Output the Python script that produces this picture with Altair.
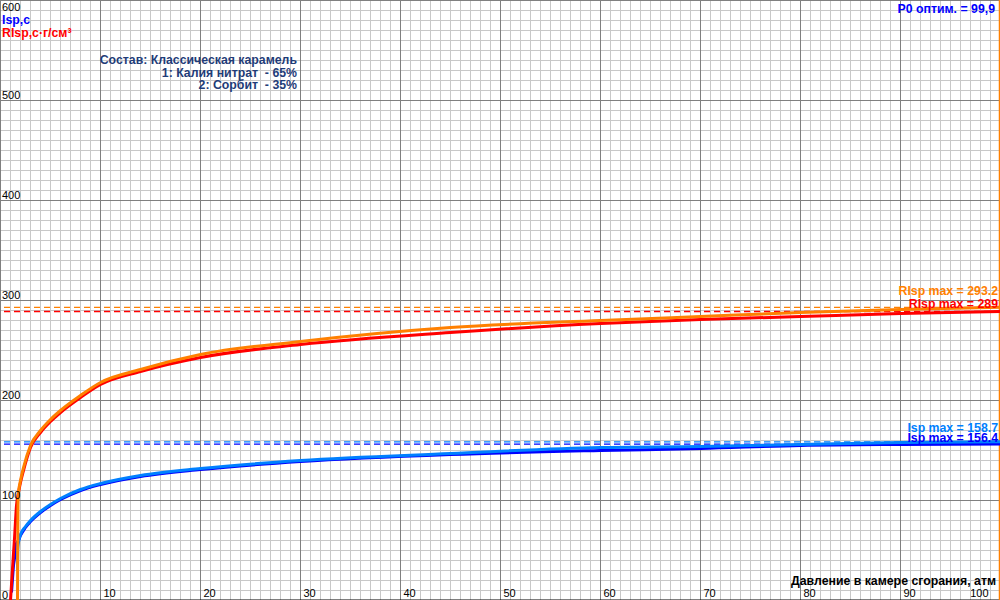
import altair as alt
import pandas as pd

FONT = "Liberation Sans"

# ---- grid / ticks ----
minor_x = list(range(0, 101, 1))
minor_y = list(range(0, 601, 10))
major_x = list(range(0, 101, 10))
major_y = list(range(0, 601, 100))

# ---- curves (pressure, atm -> value) ----
p_orange = [1.7, 1.72, 1.75, 1.8, 2, 2.3, 3, 4, 5, 6, 8, 10, 14, 20, 30, 45, 60, 70, 80, 90, 100]
v_orange = [0, 50, 95, 108, 120, 133, 155, 170, 181, 190, 205, 218, 231, 246, 259, 273, 280, 284, 288, 291, 293.2]

p_red = [1.0, 1.2, 1.4, 1.6, 1.8, 2, 2.3, 3, 4, 5, 6, 8, 10, 14, 20, 30, 45, 60, 70, 80, 90, 100]
v_red = [0, 32, 62, 95, 108, 118, 130, 153, 168, 179, 188, 203, 216, 229, 243, 256, 268, 277, 281, 284, 287, 289]

p_lblue = [1.7, 1.72, 1.8, 2, 2.5, 3, 4, 5, 6, 8, 10, 14, 20, 30, 45, 60, 70, 80, 90, 100]
v_lblue = [30, 50, 58, 66, 74, 80, 89, 96, 102, 111, 117, 125, 132, 140, 147, 153, 154, 156, 158, 158.7]

p_dblue = [1.1, 1.2, 1.3, 1.4, 1.5, 1.6, 1.8, 2, 2.5, 3, 4, 5, 6, 8, 10, 14, 20, 30, 45, 60, 70, 80, 90, 100]
v_dblue = [8, 22, 35, 42, 50, 57, 60, 65, 73, 79, 88, 95, 101, 110, 116, 124, 131, 139, 146, 150, 152, 155, 156, 156.4]

# ---- maxima ----
max_names = ["RIsp max = 293.2", "RIsp max = 289", "Isp max = 158.7", "Isp max = 156.4"]
max_vals = [293.2, 289, 158.7, 156.4]
max_colors = ["#FF8000", "#FF0000", "#0080FF", "#0000FF"]
max_dy = [-12, -4, -10, -2]

p0_opt = 99.9

xs = alt.Scale(domain=[0, 100], range=[0.5, 1000.5], nice=False, zero=False)
ys = alt.Scale(domain=[0, 600], range=[600.5, 0.5], nice=False, zero=False)

X = lambda f: alt.X(f, scale=xs, axis=None)
Y = lambda f: alt.Y(f, scale=ys, axis=None)

gx = alt.Chart(pd.DataFrame({"v": minor_x})).mark_rule(color="#C8C8C8", strokeWidth=1).encode(x=X("v:Q"))
gy = alt.Chart(pd.DataFrame({"v": minor_y})).mark_rule(color="#C8C8C8", strokeWidth=1).encode(y=Y("v:Q"))
mx = alt.Chart(pd.DataFrame({"v": major_x})).mark_rule(color="#808080", strokeWidth=1).encode(x=X("v:Q"))
my = alt.Chart(pd.DataFrame({"v": major_y})).mark_rule(color="#808080", strokeWidth=1).encode(y=Y("v:Q"))
bottom = alt.Chart(pd.DataFrame({"v": [major_y[0]]})).mark_rule(color="#000000", strokeWidth=2).encode(y=Y("v:Q"))

# tick labels
xl_df = pd.DataFrame({"v": major_x[1:]})
xlab = alt.Chart(xl_df).transform_filter("datum.v < 100").mark_text(
    align="left", baseline="alphabetic", dx=3, font=FONT, fontSize=11, color="#000000").encode(
    x=X("v:Q"), y=alt.value(597), text=alt.Text("v:Q"))
xlab100 = alt.Chart(xl_df).transform_filter("datum.v == 100").mark_text(
    align="right", baseline="alphabetic", dx=-12, font=FONT, fontSize=11, color="#000000").encode(
    x=X("v:Q"), y=alt.value(597), text=alt.Text("v:Q"))

yl_df = pd.DataFrame({"v": major_y})
ylab = alt.Chart(yl_df).transform_filter("datum.v < 600").mark_text(
    align="left", baseline="alphabetic", dy=-2, font=FONT, fontSize=11, color="#000000").encode(
    x=alt.value(2), y=Y("v:Q"), text=alt.Text("v:Q"))
ylab600 = alt.Chart(yl_df).transform_filter("datum.v == 600").mark_text(
    align="left", baseline="alphabetic", dy=10, font=FONT, fontSize=11, color="#000000").encode(
    x=alt.value(2), y=Y("v:Q"), text=alt.Text("v:Q"))

# dashed max lines and labels
max_df = pd.DataFrame({"name": max_names, "v": max_vals})
max_rules = []
max_labels = []
for i in range(len(max_names)):
    d = max_df.iloc[[i]]
    max_rules.append(alt.Chart(d).mark_rule(color=max_colors[i], strokeWidth=1.3, strokeDash=[6, 4]).encode(
        y=Y("v:Q")))
    max_labels.append(alt.Chart(d).mark_text(
        align="right", baseline="alphabetic", dy=max_dy[i], font=FONT, fontSize=12.3,
        fontWeight="bold", color=max_colors[i]).encode(
        x=alt.value(998), y=Y("v:Q"), text="name:N"))

def curve(p, v, color):
    df = pd.DataFrame({"p": p, "v": v})
    return alt.Chart(df).mark_line(color=color, strokeWidth=3, interpolate="monotone").encode(
        x=X("p:Q"), y=Y("v:Q"), order="p:Q")

lines = [curve(p_dblue, v_dblue, "#0000FF"), curve(p_lblue, v_lblue, "#0080FF"),
         curve(p_red, v_red, "#FF0000"), curve(p_orange, v_orange, "#FF8000")]

p0_rule = alt.Chart(pd.DataFrame({"v": [p0_opt]})).mark_rule(color="#FF8000", strokeWidth=1.5).encode(
    x=X("v:Q"))

def txt(text, x, y, color, align="left", bold=True, size=12.3):
    return alt.Chart(pd.DataFrame({"t": [text]})).mark_text(
        align=align, baseline="alphabetic", font=FONT, fontSize=size,
        fontWeight="bold" if bold else "normal", color=color).encode(
        x=alt.value(x), y=alt.value(y), text="t:N")

NB = "\u00a0"
texts = [
    txt("Isp,c", 2, 24, "#0000FF"),
    txt("RIsp,c·г/см³", 2, 37, "#FF0000"),
    txt("Состав: Классическая карамель", 297, 64, "#1F3C78", align="right"),
    txt("1: Калия нитрат" + NB + " - 65%", 297, 77, "#1F3C78", align="right"),
    txt("2: Сорбит" + NB + " - 35%", 297, 89, "#1F3C78", align="right"),
    txt("P0 оптим. = 99,9", 995, 13, "#0000FF", align="right"),
    txt("Давление в камере сгорания, атм", 996, 585, "#000000", align="right"),
]

chart = alt.layer(
    gx, gy, mx, my, bottom, *max_rules, p0_rule, *lines, xlab, xlab100, ylab, ylab600, *max_labels, *texts
).properties(
    width=1000, height=600, padding=0,
    autosize=alt.AutoSizeParams(type="none"),
    background="#FFFFFF",
).configure_view(stroke=None)

chart.save("out.html", embed_options={"renderer": "svg", "actions": False})
